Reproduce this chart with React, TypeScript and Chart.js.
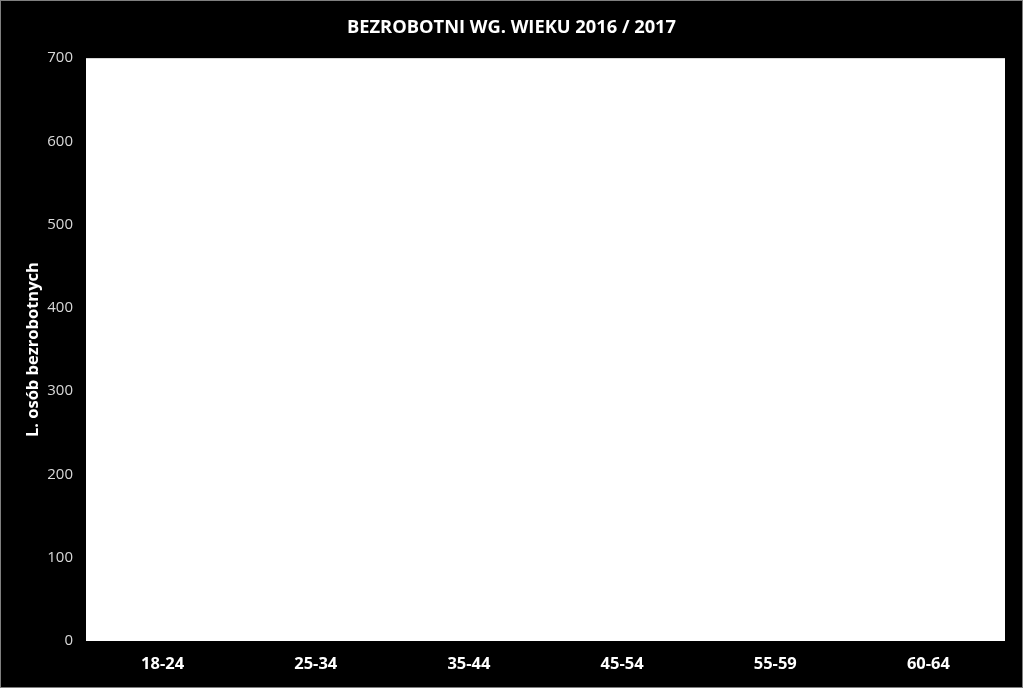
import { useEffect, useRef } from 'react';
import { Chart, registerables } from 'chart.js';

Chart.register(...registerables);

// age groups and unemployed counts (bars are empty in the source chart)
const ageGroups = ['18-24', '25-34', '35-44', '45-54', '55-59', '60-64'];
const unemployed = [0, 0, 0, 0, 0, 0];
const yMax = 700;
const yStep = 100;

const FONT = '"Open Sans", sans-serif';

const plotBackground = {
    id: 'plotBackground',
    beforeDraw: (chart: any) => {
        const { ctx, chartArea } = chart;
        ctx.save();
        ctx.fillStyle = '#ffffff';
        ctx.fillRect(chartArea.left, chartArea.top, chartArea.right - chartArea.left, chartArea.bottom - chartArea.top);
        ctx.restore();
    },
};

export default function App() {
    const canvasRef = useRef<HTMLCanvasElement>(null);

    useEffect(() => {
        document.body.style.margin = '0';
        const canvas = canvasRef.current;
        if (!canvas) return;
        const chart = new Chart(canvas, {
            type: 'bar',
            data: {
                labels: ageGroups,
                datasets: [
                    {
                        label: 'L. osób bezrobotnych',
                        data: unemployed,
                        backgroundColor: '#4f81bd',
                    },
                ],
            },
            options: {
                responsive: true,
                maintainAspectRatio: false,
                animation: false,
                layout: { padding: 0 },
                plugins: {
                    legend: { display: false },
                    tooltip: { enabled: false },
                    title: {
                        display: true,
                        text: 'BEZROBOTNI WG. WIEKU 2016 / 2017',
                        color: '#ffffff',
                        font: { family: FONT, size: 18.3, weight: 'bold' },
                        padding: { top: 16, bottom: 19.2 },
                    },
                },
                scales: {
                    x: {
                        grid: { display: false, drawTicks: false },
                        border: { display: false },
                        ticks: {
                            color: '#ffffff',
                            font: { family: FONT, size: 16.5, weight: 'bold' },
                            padding: 13,
                        },
                        afterFit: (scale: any) => {
                            scale.height = 46;
                        },
                    },
                    y: {
                        min: 0,
                        max: yMax,
                        grid: { display: false, drawTicks: false },
                        border: { display: false },
                        ticks: {
                            stepSize: yStep,
                            color: '#d9d9d9',
                            font: { family: FONT, size: 15 },
                            padding: 13,
                        },
                        title: {
                            display: true,
                            text: 'L. osób bezrobotnych',
                            color: '#ffffff',
                            font: { family: FONT, size: 16.5, weight: 'bold' },
                            padding: { top: 22, bottom: 0 },
                        },
                        afterFit: (scale: any) => {
                            scale.width = 85;
                        },
                    },
                    // empty right-hand spacer so the title stays centred on the whole image
                    yRight: {
                        position: 'right',
                        min: 0,
                        max: yMax,
                        grid: { display: false, drawTicks: false },
                        border: { display: false },
                        ticks: { display: false },
                        afterFit: (scale: any) => {
                            scale.width = 17;
                        },
                    },
                },
            },
            plugins: [plotBackground],
        });
        return () => {
            chart.destroy();
        };
    }, []);

    return (
        <div
            style={{
                position: 'fixed',
                left: 0,
                top: 0,
                width: 1023,
                height: 688,
                boxSizing: 'border-box',
                border: '1px solid #7f7f7f',
                background: '#000000',
            }}
        >
            <canvas ref={canvasRef} />
        </div>
    );
}
